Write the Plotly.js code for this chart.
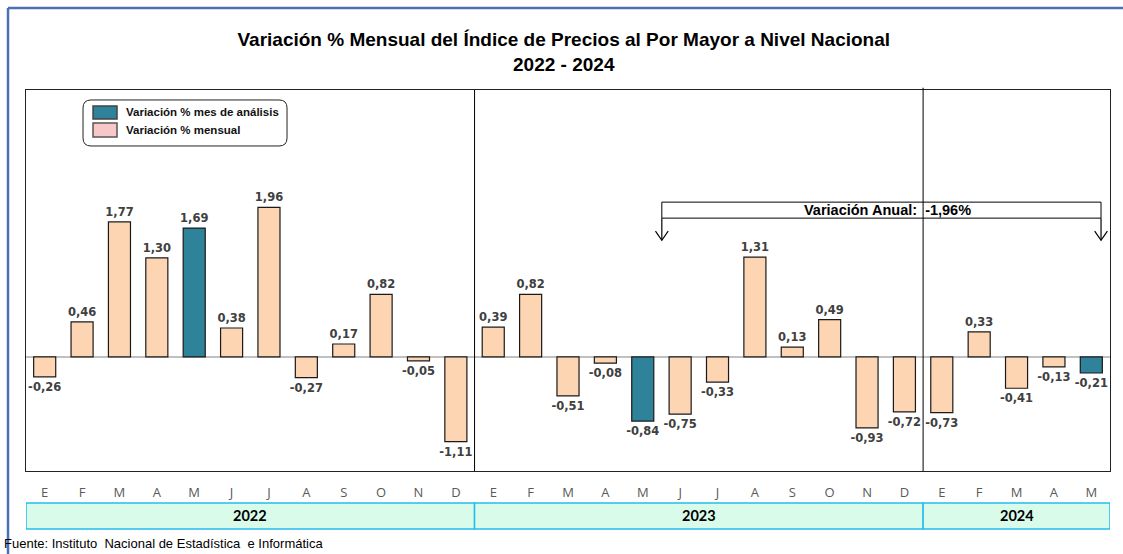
<!DOCTYPE html>
<html>
<head>
<meta charset="utf-8">
<script src="https://cdn.plot.ly/plotly-3.0.1.min.js"></script>
<style>html,body{margin:0;padding:0;background:#fff;}#chart{width:1123px;height:554px;}</style>
</head>
<body>
<div id="chart"></div>
<script>
// ---- data ----
var months = ['E','F','M','A','M','J','J','A','S','O','N','D',
              'E','F','M','A','M','J','J','A','S','O','N','D',
              'E','F','M','A','M'];
var years = ['2022','2023','2024'];
var monthsPerYear = [12, 12, 5];
var values = [-0.26, 0.46, 1.77, 1.30, 1.69, 0.38, 1.96, -0.27, 0.17, 0.82, -0.05, -1.11,
               0.39, 0.82, -0.51, -0.08, -0.84, -0.75, -0.33, 1.31, 0.13, 0.49, -0.93, -0.72,
              -0.73, 0.33, -0.41, -0.13, -0.21];
var analysisMonthIndex = 4; // May of each year
var annualLabel = 'Variación Anual:  -1,96%';
var legendLabels = ['Variación % mes de análisis', 'Variación % mensual'];
var titleLines = ['Variación % Mensual del Índice de Precios al Por Mayor a Nivel Nacional', '2022 - 2024'];
var sourceText = 'Fuente: Instituto\u00a0 Nacional de Estadística\u00a0 e Informática';

// ---- build ----
var PEACH = '#fdd5b3', TEAL = '#2e8299', LEGPINK = '#f8c8c9';
var x = values.map(function(v, i){ return i; });
var colors = [];
var yearStart = [];
var k = 0;
monthsPerYear.forEach(function(n, yi){
  yearStart.push(k);
  for (var m = 0; m < n; m++) { colors.push(m === analysisMonthIndex ? TEAL : PEACH); k++; }
});
var labels = values.map(function(v){ return v.toFixed(2).replace('.', ','); });

var trace = {
  type: 'bar', x: x, y: values, width: 0.59,
  marker: {color: colors, line: {color: '#1a1a1a', width: 1.2}},
  text: labels, textposition: 'outside', cliponaxis: false, constraintext: 'none',
  textfont: {family: 'DejaVu Sans', size: 11.5, color: '#404040', weight: 'bold'},
  hoverinfo: 'skip', showlegend: false
};

var shapes = [];
var annotations = [];

// outer frame (blue lines at left & top)
shapes.push({type:'line', xref:'paper', yref:'paper', x0:-0.0166, x1:-0.0166, y0:1.2152, y1:-0.23, line:{color:'#4a72b0', width:2.5}});
shapes.push({type:'line', xref:'paper', yref:'paper', x0:-0.0166, x1:1.02, y0:1.2152, y1:1.2152, line:{color:'#4a72b0', width:2.5}});

// year separators + year band
monthsPerYear.forEach(function(n, yi){
  var a = yearStart[yi] - 0.5, b = yearStart[yi] + n - 0.5;
  shapes.push({type:'rect', xref:'x', yref:'paper', x0:a, x1:b, y0:-0.152, y1:-0.084,
               fillcolor:'#d9fbea', line:{color:'#26bdf0', width:1.5}, layer:'below'});
  annotations.push({xref:'x', yref:'paper', x:(a+b)/2, y:-0.118, yanchor:'middle', text:'<b>'+years[yi]+'</b>',
                    showarrow:false, font:{family:'Lato, Liberation Sans', size:14.5, color:'#000'}});
  if (yi > 0) {
    shapes.push({type:'line', xref:'x', yref:'paper', x0:a, x1:a, y0:0, y1:(yi===2?1.006:1), line:{color:'#000', width:1}});
  }
});

// annual variation box & arrows
var boxX0 = 16.51, boxX1 = 28.26, boxY0 = 1.82, boxY1 = 2.03, tipY = 1.53;
shapes.push({type:'rect', xref:'x', yref:'y', x0:boxX0, x1:boxX1, y0:boxY0, y1:boxY1, line:{color:'#000', width:1}, fillcolor:'rgba(0,0,0,0)'});
[boxX0, boxX1].forEach(function(ax){
  shapes.push({type:'line', xref:'x', yref:'y', x0:ax, x1:ax, y0:boxY0, y1:tipY, line:{color:'#000', width:1.2}});
  shapes.push({type:'path', xref:'x', yref:'y', path:'M '+(ax-0.17)+','+(tipY+0.12)+' L '+ax+','+tipY+' L '+(ax+0.17)+','+(tipY+0.12),
               line:{color:'#000', width:1.2}});
});
annotations.push({xref:'x', yref:'y', x:(boxX0+boxX1)/2 + 0.15, y:(boxY0+boxY1)/2, yanchor:'middle', text:'<b>'+annualLabel+'</b>',
                  showarrow:false, font:{family:'Liberation Sans, Arial', size:14.5, color:'#000'}});

// legend (manual)
var lx = 0.0526, ly = 0.9738;
shapes.push({type:'path', xref:'paper', yref:'paper', xsizemode:'pixel', ysizemode:'pixel', xanchor:lx, yanchor:ly,
             path:'M 8,0 L 196,0 Q 204,0 204,-8 L 204,-38 Q 204,-46 196,-46 L 8,-46 Q 0,-46 0,-38 L 0,-8 Q 0,0 8,0 Z',
             line:{color:'#222', width:1}, fillcolor:'#fff'});
shapes.push({type:'rect', xref:'paper', yref:'paper', xsizemode:'pixel', ysizemode:'pixel', xanchor:lx, yanchor:ly,
             x0:10, x1:34, y0:-6, y1:-19, fillcolor:TEAL, line:{color:'#444', width:1.5}});
shapes.push({type:'rect', xref:'paper', yref:'paper', xsizemode:'pixel', ysizemode:'pixel', xanchor:lx, yanchor:ly,
             x0:10, x1:34, y0:-23, y1:-37, fillcolor:LEGPINK, line:{color:'#555', width:1.5}});
annotations.push({xref:'paper', yref:'paper', x:0.0904, y:0.9423, xanchor:'left', yanchor:'middle', text:'<b>'+legendLabels[0]+'</b>',
                  showarrow:false, font:{family:'Liberation Sans, Arial', size:11.5, color:'#111'}});
annotations.push({xref:'paper', yref:'paper', x:0.0904, y:0.895, xanchor:'left', yanchor:'middle', text:'<b>'+legendLabels[1]+'</b>',
                  showarrow:false, font:{family:'Liberation Sans, Arial', size:11.5, color:'#111'}});

// source
annotations.push({xref:'paper', yref:'paper', x:-0.022, y:-0.1916, xanchor:'left', yanchor:'middle', text:sourceText,
                  showarrow:false, font:{family:'Liberation Sans, Arial', size:13, color:'#000'}});

var layout = {
  width: 1123, height: 554,
  margin: {l: 26, r: 13, t: 90, b: 83, pad: 0},
  paper_bgcolor: '#fff', plot_bgcolor: '#fff',
  title: {text: '<b>' + titleLines.join('<br>') + '</b>', x: 0.502, xref: 'container', xanchor: 'center',
          y: 0.917, yref: 'container', yanchor: 'middle',
          font: {family: 'Liberation Sans, Arial', size: 19, color: '#000'}},
  xaxis: {range: [-0.5, 28.5], tickvals: x, ticktext: months, ticks: '', showgrid: false, zeroline: false,
          showline: true, mirror: true, linecolor: '#222', linewidth: 1, ticklabelstandoff: 9,
          tickfont: {family: 'Open Sans', size: 13, color: '#595959'}, fixedrange: true},
  yaxis: {range: [-1.495, 3.5], showticklabels: false, ticks: '', showgrid: false,
          zeroline: true, zerolinecolor: '#c0c0c0', zerolinewidth: 2,
          showline: true, mirror: true, linecolor: '#222', linewidth: 1, fixedrange: true},
  shapes: shapes, annotations: annotations, showlegend: false, bargap: 0.4
};

Plotly.newPlot('chart', [trace], layout, {displayModeBar: false, staticPlot: true});
</script>
</body>
</html>
